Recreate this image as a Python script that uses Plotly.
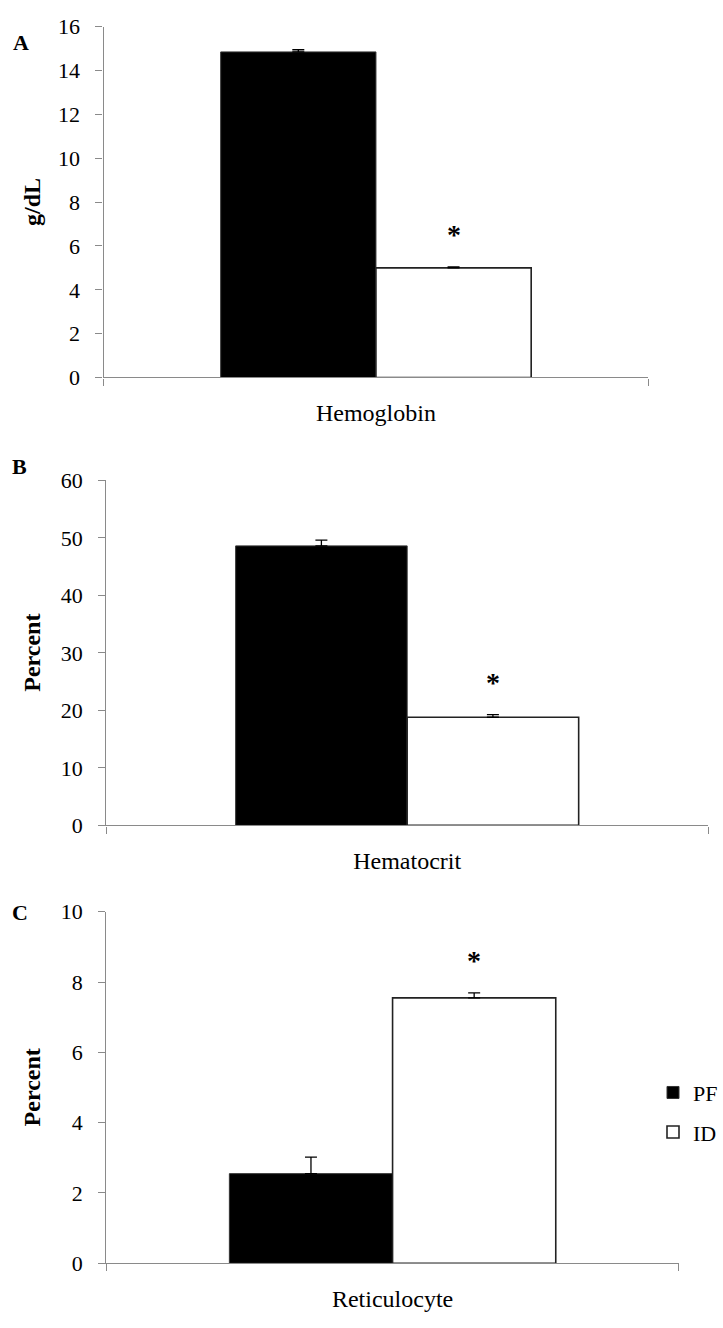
import plotly.graph_objects as go

W, H = 723, 1328

# ---- data ----
categories = ["Hemoglobin", "Hematocrit", "Reticulocyte"]
panel_letters = ["A", "B", "C"]
y_titles = ["g/dL", "Percent", "Percent"]
groups = ["PF", "ID"]
pf_values = [14.85, 48.6, 2.55]
pf_errors = [0.1, 1.0, 0.47]
id_values = [5.0, 18.8, 7.55]
id_errors = [0.05, 0.46, 0.14]
significance = ["*", "*", "*"]
y_max = [16, 60, 10]
y_dtick = [2, 10, 2]

# ---- layout geometry (pixels) ----
px_x = [(104, 651), (106.7, 711), (106.7, 681.7)]
px_y = [(15, 372.5), (477.3, 829), (917, 1275.3)]
letter_pos = [(21, 31), (20, 463), (20, 918)]

FONT = "Liberation Serif"
AXCOL = "#8a8a8a"

fig = go.Figure()
bargap = 0.43
bar_w = (1 - bargap) / 2

for i in range(3):
    ax = "" if i == 0 else str(i + 1)
    xref, yref = "x" + ax, "y" + ax
    fig.add_trace(go.Bar(
        x=[categories[i]], y=[pf_values[i]], name=groups[0],
        marker=dict(color="black", line=dict(color="#333333", width=1)),
        error_y=dict(type="data", array=[pf_errors[i]], arrayminus=[0], symmetric=False,
                     color="black", thickness=1.3, width=6),
        xaxis=xref, yaxis=yref, showlegend=(i == 2), legendgroup="pf",
    ))
    fig.add_trace(go.Bar(
        x=[categories[i]], y=[id_values[i]], name=groups[1],
        marker=dict(color="white", line=dict(color="#222222", width=1.6)),
        error_y=dict(type="data", array=[id_errors[i]], arrayminus=[0], symmetric=False,
                     color="black", thickness=1.3, width=6),
        xaxis=xref, yaxis=yref, showlegend=(i == 2), legendgroup="id",
    ))
    x0, x1 = px_x[i]
    y0, y1 = px_y[i]
    fig.layout["xaxis" + ax] = dict(
        domain=[x0 / W, x1 / W], anchor=yref, type="category",
        range=[-0.5, 0.5], tickson="boundaries", ticks="outside", ticklen=7,
        tickcolor=AXCOL, tickwidth=1.3, showline=True, linecolor=AXCOL, linewidth=1.3,
        showgrid=False, zeroline=False, ticklabelstandoff=14,
        tickfont=dict(family=FONT, size=24, color="black"), fixedrange=True,
    )
    fig.layout["yaxis" + ax] = dict(
        domain=[1 - y1 / H, 1 - y0 / H], anchor=xref,
        range=[0, y_max[i]], dtick=y_dtick[i], tick0=0, ticks="outside", ticklen=7,
        tickcolor=AXCOL, tickwidth=1.3, showline=True, linecolor=AXCOL, linewidth=1.3,
        showgrid=False, zeroline=False, ticklabelstandoff=11,
        tickfont=dict(family=FONT, size=22, color="black"), fixedrange=True,
    )
    # y-axis title
    fig.add_annotation(
        text="<b>%s</b>" % y_titles[i], xref="paper", yref="paper",
        x=32 / W, y=1 - (y0 + y1) / 2 / H, textangle=-90, showarrow=False,
        xanchor="center", yanchor="middle",
        font=dict(family=FONT, size=24, color="black"),
    )
    # panel letter
    lx, ly = letter_pos[i]
    fig.add_annotation(
        text="<b>%s</b>" % panel_letters[i], xref="paper", yref="paper",
        x=lx / W, y=1 - ly / H, showarrow=False, xanchor="center", yanchor="middle",
        font=dict(family=FONT, size=22, color="black"),
    )
    # significance marker above ID bar
    fig.add_annotation(
        text="<b>%s</b>" % significance[i], xref=xref, yref=yref,
        x=bar_w / 2, y=id_values[i] + id_errors[i], yshift=32, showarrow=False,
        xanchor="center", yanchor="middle",
        font=dict(family=FONT, size=28, color="black"),
    )

fig.update_layout(
    width=W, height=H, margin=dict(l=0, r=0, t=0, b=0),
    paper_bgcolor="white", plot_bgcolor="white",
    barmode="group", bargap=bargap, bargroupgap=0,
    showlegend=True,
    legend=dict(x=656 / W, y=1 - 1080 / H, xanchor="left", yanchor="top",
                font=dict(family=FONT, size=22, color="black"),
                traceorder="grouped", tracegroupgap=8, itemwidth=30,
                bgcolor="rgba(0,0,0,0)"),
)

fig.write_html("out.html")
